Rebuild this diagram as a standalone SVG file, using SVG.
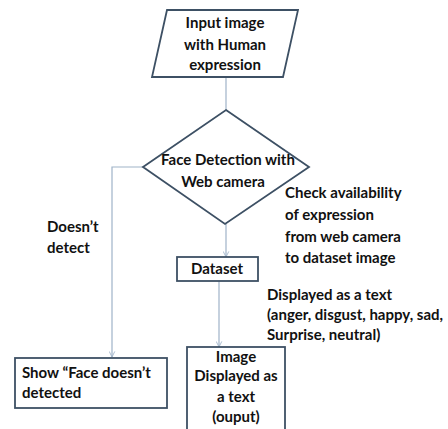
<svg xmlns="http://www.w3.org/2000/svg" width="448" height="429" viewBox="0 0 448 429">
<style>
.n{fill:#fff;stroke:#3d5064;stroke-width:1.8}
.c{fill:none;stroke:#9fb3c8;stroke-width:1.2}
text{font-family:Lato,"Open Sans",sans-serif;font-weight:bold;font-size:15px;fill:#111}
.m{text-anchor:middle}
</style>
<defs>
<marker id="a" viewBox="0 0 10 10" refX="9" refY="5" markerWidth="7" markerHeight="7" orient="auto" markerUnits="userSpaceOnUse">
<path d="M1,1 L9,5 L1,9" fill="none" stroke="#9fb3c8" stroke-width="1.2"/>
</marker>
</defs>
<rect width="448" height="429" fill="#fff"/>
<g id="connectors">
<path class="c" d="M226,77 V110"/>
<path class="c" d="M143,167 H112 V357" marker-end="url(#a)"/>
<path class="c" d="M226,224 V257" marker-end="url(#a)"/>
<path class="c" d="M219,281 V347" marker-end="url(#a)"/>
</g>
<g id="input">
<polygon class="n" points="167,10 298,10 283,77 152,77"/>
<text class="m" x="225" y="28">Input image</text>
<text class="m" x="225" y="50">with Human</text>
<text class="m" x="225" y="70">expression</text>
</g>
<g id="face">
<polygon class="n" points="226,110 309,167 225,224 143,167"/>
<text class="m" x="228" y="165">Face Detection with</text>
<text class="m" x="223" y="187">Web camera</text>
</g>
<g id="dataset">
<rect class="n" x="177" y="257" width="81" height="24"/>
<text class="m" x="217" y="274">Dataset</text>
</g>
<g id="show">
<rect class="n" x="15" y="358" width="152" height="50"/>
<text x="22" y="378">Show “Face doesn’t</text>
<text x="22" y="398">detected</text>
</g>
<g id="image">
<rect class="n" x="187" y="347" width="98" height="84"/>
<text class="m" x="236" y="362">Image</text>
<text class="m" x="236" y="381">Displayed as</text>
<text class="m" x="236" y="402">a text</text>
<text class="m" x="236" y="422">(ouput)</text>
</g>
<g id="labels">
<text x="47" y="232">Doesn’t</text>
<text x="47" y="253">detect</text>
<text x="285" y="198">Check availability</text>
<text x="285" y="220">of expression</text>
<text x="285" y="242">from web camera</text>
<text x="285" y="263">to dataset image</text>
<text x="267" y="300">Displayed as a text</text>
<text x="267" y="320">(anger, disgust, happy, sad,</text>
<text x="267" y="340">Surprise, neutral)</text>
</g>
</svg>
